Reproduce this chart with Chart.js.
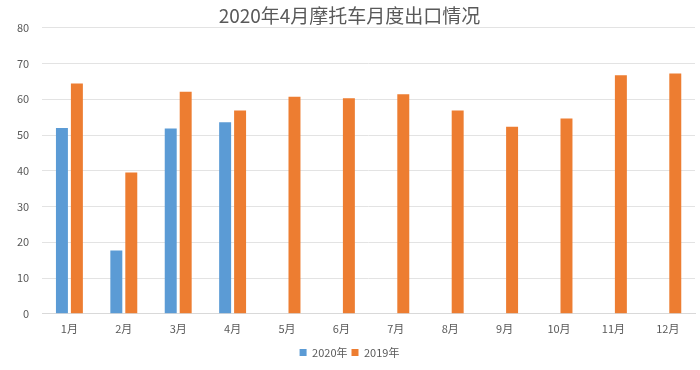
<!DOCTYPE html>
<html>
<head>
<meta charset="utf-8">
<script src="https://cdn.jsdelivr.net/npm/chart.js@4/dist/chart.umd.min.js"></script>
<style>
  html, body { margin: 0; padding: 0; background: #fff; }
  #wrap { width: 700px; height: 370px; position: relative; }
</style>
</head>
<body>
<div id="wrap"><canvas id="chart"></canvas></div>
<script>
const months = ["1月", "2月", "3月", "4月", "5月", "6月", "7月", "8月", "9月", "10月", "11月", "12月"];
const exports2020 = [52.0, 17.7, 51.8, 53.6, null, null, null, null, null, null, null, null];
const exports2019 = [64.4, 39.5, 62.1, 56.9, 60.7, 60.3, 61.4, 56.9, 52.3, 54.6, 66.7, 67.2];

const FONT = "'Noto Sans CJK SC', 'Noto Sans', sans-serif";
const GRAY = "#595959";

new Chart(document.getElementById("chart"), {
    type: "bar",
    data: {
        labels: months,
        datasets: [
            { label: "2020年", data: exports2020, backgroundColor: "#5B9BD5" },
            { label: "2019年", data: exports2019, backgroundColor: "#ED7D31" }
        ]
    },
    options: {
        responsive: true,
        maintainAspectRatio: false,
        animation: false,
        datasets: { bar: { categoryPercentage: 0.55, barPercentage: 0.8 } },
        layout: { padding: { left: 4, right: 5, top: 4, bottom: 2 } },
        plugins: {
            title: {
                display: true,
                text: "2020年4月摩托车月度出口情况",
                color: GRAY,
                font: { family: FONT, size: 19, weight: "normal" },
                padding: { top: 0, bottom: 1 }
            },
            legend: {
                position: "bottom",
                labels: {
                    color: GRAY,
                    font: { family: FONT, size: 11 },
                    boxWidth: 7,
                    boxHeight: 7,
                    padding: 4
                }
            },
            tooltip: { enabled: false }
        },
        scales: {
            x: {
                grid: { display: false, drawTicks: false },
                border: { display: true, color: "#d9d9d9" },
                ticks: { color: GRAY, font: { family: FONT, size: 11 }, padding: 8 }
            },
            y: {
                min: 0,
                max: 80,
                ticks: { stepSize: 10, color: GRAY, font: { family: FONT, size: 11 }, padding: 13 },
                grid: { color: "#e3e3e3", drawTicks: false },
                border: { display: false }
            }
        }
    }
});
</script>
</body>
</html>
